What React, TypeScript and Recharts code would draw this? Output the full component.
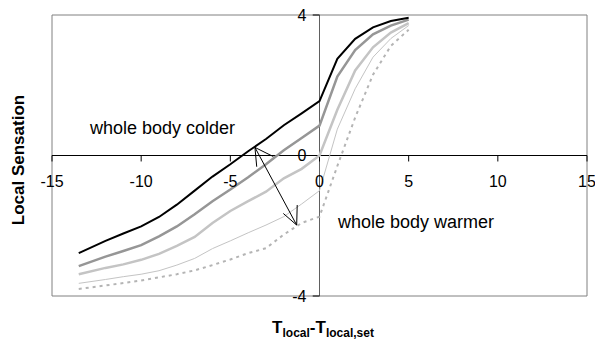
import { LineChart, Line, XAxis, YAxis, ReferenceLine, ReferenceDot, ReferenceArea } from "recharts";

const xs = [-13.5, -12, -11, -10, -9, -8, -7, -6, -5, -4, -3, -2, -1, 0, 1, 2, 3, 4, 5];
const colder = [-2.78, -2.43, -2.22, -2.02, -1.75, -1.4, -1.0, -0.6, -0.25, 0.12, 0.47, 0.86, 1.2, 1.55, 2.75, 3.32, 3.65, 3.83, 3.92];
const mid1 = [-3.15, -2.88, -2.72, -2.55, -2.3, -2.02, -1.67, -1.3, -0.97, -0.62, -0.25, 0.15, 0.5, 0.85, 2.25, 3.0, 3.45, 3.7, 3.87];
const mid2 = [-3.38, -3.2, -3.1, -2.97, -2.8, -2.57, -2.32, -1.92, -1.58, -1.3, -1.03, -0.65, -0.38, 0, 1.3, 2.42, 3.08, 3.5, 3.77];
const mid3 = [-3.64, -3.53, -3.45, -3.38, -3.28, -3.12, -2.93, -2.65, -2.43, -2.2, -1.98, -1.74, -1.38, -1.0, 0.75, 1.9, 2.8, 3.33, 3.7];
const warmer = [-3.8, -3.7, -3.63, -3.56, -3.47, -3.38, -3.27, -3.12, -2.96, -2.78, -2.64, -2.25, -1.92, -1.74, -0.3, 1.08, 2.3, 3.12, 3.58];

const xTicks = [-15, -10, -5, 0, 5, 10, 15];
const yTicks = [-4, 0, 4];

// double-headed arrow between the curves, in data units
const arrowShaft = [{ x: -3.62, y: 0.23 }, { x: -1.28, y: -1.98 }];
const arrowTop = [{ x: -3.52, y: -0.32 }, { x: -2.59, y: -0.03 }];
const arrowBottom = [{ x: -2.03, y: -1.65 }, { x: -1.25, y: -1.41 }];

const data = xs.map((x, i) => ({ x, a: colder[i], b: mid1[i], c: mid2[i], d: mid3[i], e: warmer[i] }));

const font = "'Liberation Sans', Arial, sans-serif";

export default function App() {
  return (
    <div style={{ position: "absolute", left: 0, top: 0, width: 595, height: 343, background: "#fff", fontFamily: font }}>
      <LineChart width={595} height={343} data={data} margin={{ top: 15, right: 8, bottom: 47, left: 52 }}>
        <XAxis type="number" dataKey="x" domain={[-15, 15]} hide />
        <YAxis type="number" domain={[-4, 4]} hide />
        <ReferenceArea x1={-15} x2={15} y1={-4} y2={4} fill="none" fillOpacity={0} stroke="#808080" />
        <ReferenceLine y={0} stroke="#000" />
        <ReferenceLine x={0} stroke="#606060" />
        {xTicks.map((t) => (
          <ReferenceLine key={"xt" + t} segment={[{ x: t, y: 0 }, { x: t, y: -0.17 }]} stroke="#000" />
        ))}
        {yTicks.filter((t) => t !== 0).map((t) => (
          <ReferenceLine key={"yt" + t} segment={[{ x: -0.38, y: t }, { x: 0, y: t }]} stroke="#000" />
        ))}
        {xTicks.map((t) => (
          <ReferenceDot key={"xl" + t} x={t} y={0} r={0} stroke="none" fill="none"
            label={{ value: String(t), position: "bottom", offset: 20, fill: "#000", fontSize: 16, fontFamily: font }} />
        ))}
        {yTicks.map((t) => (
          <ReferenceDot key={"yl" + t} x={0} y={t} r={0} stroke="none" fill="none"
            label={{ value: String(t), position: "left", offset: 13, fill: "#000", fontSize: 16, fontFamily: font }} />
        ))}
        <Line dataKey="e" stroke="#b4b4b4" strokeWidth={2} strokeDasharray="3 4" dot={false} isAnimationActive={false} />
        <Line dataKey="d" stroke="#c4c4c4" strokeWidth={1} dot={false} isAnimationActive={false} />
        <Line dataKey="c" stroke="#c4c4c4" strokeWidth={2.5} dot={false} isAnimationActive={false} />
        <Line dataKey="b" stroke="#969696" strokeWidth={2.5} dot={false} isAnimationActive={false} />
        <Line dataKey="a" stroke="#000" strokeWidth={2} dot={false} isAnimationActive={false} />
        <ReferenceLine segment={arrowShaft} stroke="#000" />
        <ReferenceLine segment={[arrowShaft[0], arrowTop[0]]} stroke="#000" />
        <ReferenceLine segment={[arrowShaft[0], arrowTop[1]]} stroke="#000" />
        <ReferenceLine segment={[arrowShaft[1], arrowBottom[0]]} stroke="#000" />
        <ReferenceLine segment={[arrowShaft[1], arrowBottom[1]]} stroke="#000" />
        <ReferenceDot x={-12.87} y={0.79} r={0} stroke="none" fill="none"
          label={{ value: "whole body colder", position: "right", offset: 0, fill: "#000", fontSize: 18, fontFamily: font }} />
        <ReferenceDot x={1.04} y={-1.88} r={0} stroke="none" fill="none"
          label={{ value: "whole body warmer", position: "right", offset: 0, fill: "#000", fontSize: 18, fontFamily: font }} />
      </LineChart>
      <div style={{ position: "absolute", left: 19, top: 160, transform: "translate(-50%, -50%) rotate(-90deg)", fontWeight: "bold", fontSize: 17, whiteSpace: "nowrap" }}>
        Local Sensation
      </div>
      <div style={{ position: "absolute", left: 323, top: 318, transform: "translateX(-50%)", fontWeight: "bold", fontSize: 17, whiteSpace: "nowrap" }}>
        T<sub style={{ fontSize: 12 }}>local</sub>-T<sub style={{ fontSize: 12 }}>local,set</sub>
      </div>
    </div>
  );
}
